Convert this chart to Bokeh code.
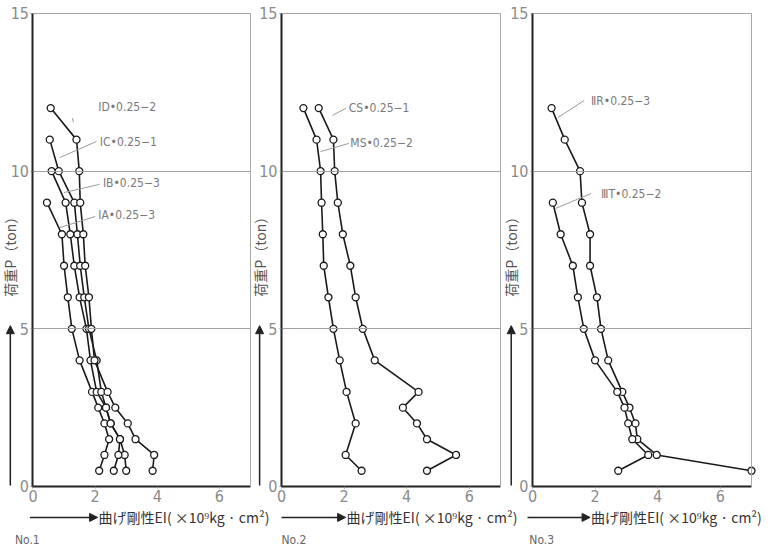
from math import pi
from bokeh.plotting import figure
from bokeh.models import (Range1d, Label, Arrow, NormalHead, FixedTicker, LinearAxis)
from bokeh.embed import file_html
from bokeh.resources import INLINE

# ---------------- data (EI x10^9 kg·cm², load P ton) ----------------
y_ticks = [0, 5, 10, 15]
x_ticks = [0, 2, 4, 6]
ref_lines = [5, 10, 15]

IA_P = [9, 8, 7, 6, 5, 4, 3, 2.5, 2, 1.5, 1, 0.5]
IA_EI = [0.45, 0.93, 1.0, 1.12, 1.25, 1.5, 1.9, 2.1, 2.3, 2.45, 2.3, 2.13]
IB_P = [10, 9, 8, 7, 6, 5, 4, 3, 2.5, 2, 1.5, 1, 0.5]
IB_EI = [0.6, 1.05, 1.2, 1.33, 1.5, 1.72, 1.85, 2.05, 2.35, 2.5, 2.8, 2.95, 3.0]
IC_P = [11, 10, 9, 8, 7, 6, 5, 4, 3, 2.5, 2, 1.5, 1, 0.5]
IC_EI = [0.54, 0.83, 1.33, 1.43, 1.52, 1.65, 1.8, 2.05, 2.2, 2.35, 2.5, 2.8, 2.75, 2.6]
ID_P = [12, 11, 10, 9, 8, 7, 6, 5, 4, 3, 2.5, 2, 1.5, 1, 0.5]
ID_EI = [0.57, 1.4, 1.49, 1.52, 1.62, 1.68, 1.8, 1.88, 1.98, 2.4, 2.65, 3.05, 3.3, 3.9, 3.85]

CS_P = [12, 11, 10, 9, 8, 7, 6, 5, 4, 3, 2, 1, 0.5]
CS_EI = [0.7, 1.12, 1.25, 1.28, 1.32, 1.35, 1.5, 1.66, 1.86, 2.08, 2.37, 2.05, 2.56]
MS_P = [12, 11, 10, 9, 8, 7, 6, 5, 4, 3, 2.5, 2, 1.5, 1, 0.5]
MS_EI = [1.19, 1.66, 1.7, 1.8, 1.96, 2.2, 2.37, 2.6, 2.98, 4.38, 3.88, 4.33, 4.65, 5.58, 4.65]

IIR_P = [12, 11, 10, 9, 8, 7, 6, 5, 4, 3, 2.5, 2, 1.5, 1, 0.5]
IIR_EI = [0.61, 1.03, 1.52, 1.58, 1.84, 1.84, 2.06, 2.19, 2.42, 2.87, 3.1, 3.29, 3.35, 3.97, 7.0]
IIIT_P = [9, 8, 7, 6, 5, 4, 3, 2.5, 2, 1.5, 1, 0.5]
IIIT_EI = [0.65, 0.9, 1.29, 1.45, 1.64, 2.0, 2.71, 2.94, 3.06, 3.19, 3.7, 2.74]

series_names_1 = ["ⅠA•0.25−3", "ⅠB•0.25−3", "ⅠC•0.25−1", "ⅠD•0.25−2"]
series_names_2 = ["CS•0.25−1", "MS•0.25−2"]
series_names_3 = ["ⅡR•0.25−3", "ⅢT•0.25−2"]
panel_names = ["No.1", "No.2", "No.3"]
x_label = "曲げ剛性EI( ×10⁹kg · cm²)"
y_label = "荷重P（ton）"

JP = "Noto Sans CJK JP"
NOTE_FONT = "'DejaVu Sans Condensed', 'Noto Sans CJK JP', sans-serif"
NUM = "'Liberation Sans Narrow', 'DejaVu Sans Condensed', sans-serif"
GRAY = "#7a7a7a"

p = figure(frame_width=773, frame_height=552, min_border=0,
           x_range=Range1d(-1.046, 23.833), y_range=Range1d(-2.093, 15.412),
           x_axis_type=None, y_axis_type=None,
           output_backend="svg", toolbar_location=None,
           background_fill_color="white", border_fill_color="white")
p.outline_line_color = None
p.xgrid.visible = False
p.ygrid.visible = False
p.extra_x_ranges = {"p2": Range1d(-8.982, 15.726), "p3": Range1d(-17.004, 7.703)}


def add_panel(rn, series, notes, name, xarrow, ylab_x, name_x):
    # reference lines (thin gray) drawn as bounded, label-less axes
    for yl in ref_lines:
        g = LinearAxis(fixed_location=yl, bounds=(0, 7), x_range_name=rn,
                       ticker=FixedTicker(ticks=[]), axis_line_color="#a3a3a3",
                       axis_line_width=1, major_tick_line_color=None,
                       minor_tick_line_color=None, major_label_text_font_size="0px")
        p.add_layout(g, "below")
    g = LinearAxis(fixed_location=7, bounds=(0, 15), x_range_name=rn,
                   ticker=FixedTicker(ticks=[]), axis_line_color="#a8a8a8",
                   axis_line_width=1, major_tick_line_color=None,
                   minor_tick_line_color=None, major_label_text_font_size="0px")
    p.add_layout(g, "left")

    xa = LinearAxis(fixed_location=0, bounds=(0, 7), x_range_name=rn,
                    ticker=FixedTicker(ticks=x_ticks))
    ya = LinearAxis(fixed_location=0, bounds=(0, 15), x_range_name=rn,
                    ticker=FixedTicker(ticks=y_ticks))
    for ax in (xa, ya):
        ax.axis_line_color = "#222222"
        ax.axis_line_width = 2
        ax.major_tick_in = 0
        ax.major_tick_out = 2
        ax.minor_tick_line_color = None
        ax.major_tick_line_color = "#888888"
        ax.major_label_text_color = "#8a8a8a"
        ax.major_label_text_font = NUM
        ax.major_label_text_font_size = "16px"
        ax.major_label_standoff = 2
    p.add_layout(xa, "below")
    p.add_layout(ya, "left")

    for xs, ys in series:
        p.line(xs, ys, line_color="#1a1a1a", line_width=1.6, x_range_name=rn)
        p.scatter(xs, ys, marker="circle", size=7, fill_color="white",
                  line_color="#1a1a1a", line_width=1.3, x_range_name=rn)

    for (tx, ty, text, lx0, ly0, lx1, ly1) in notes:
        p.segment(x0=[lx0], y0=[ly0], x1=[lx1], y1=[ly1],
                  line_color="#9a9a9a", line_width=1, x_range_name=rn)
        p.add_layout(Label(x=tx, y=ty, text=text, text_font=NOTE_FONT, x_range_name=rn,
                           text_font_size="12px", text_color=GRAY,
                           text_baseline="middle", text_align="left"))

    # x label with arrow
    x0, x1 = xarrow
    p.add_layout(Arrow(x_start=x0, y_start=-0.98, x_end=x1, y_end=-0.98, x_range_name=rn,
                       line_color="#222222", line_width=1.5,
                       end=NormalHead(size=8, fill_color="#222222", line_color="#222222")))
    p.add_layout(Label(x=x1 + 0.03, y=-0.98, text=x_label, text_font=JP, x_range_name=rn,
                       text_font_size="14px", text_color="#333333",
                       text_baseline="middle", text_align="left"))
    # y label with arrow
    p.add_layout(Arrow(x_start=ylab_x, y_start=0.03, x_end=ylab_x, y_end=5.1, x_range_name=rn,
                       line_color="#222222", line_width=1.5,
                       end=NormalHead(size=8, fill_color="#222222", line_color="#222222")))
    p.add_layout(Label(x=ylab_x, y=7.4, text=y_label, angle=pi / 2, text_font=JP,
                       x_range_name=rn, text_font_size="14px", text_color="#555555",
                       text_baseline="middle", text_align="center"))
    p.add_layout(Label(x=name_x, y=-1.71, text=name, text_font=NUM, x_range_name=rn,
                       text_font_size="12px", text_color="#666666",
                       text_baseline="middle", text_align="left"))


add_panel("default",
          [(IA_EI, IA_P), (IB_EI, IB_P), (IC_EI, IC_P), (ID_EI, ID_P)],
          [(2.1, 8.6, series_names_1[0], 0.86, 8.21, 2.0, 8.56),
           (2.25, 9.61, series_names_1[1], 0.99, 9.32, 2.14, 9.58),
           (2.15, 10.94, series_names_1[2], 0.86, 10.43, 2.04, 10.94),
           (2.1, 12.02, series_names_1[3], 1.27, 11.68, 1.30, 11.55)],
          panel_names[0], (-0.1, 2.08), -0.73, -0.58)
add_panel("p2",
          [(CS_EI, CS_P), (MS_EI, MS_P)],
          [(2.15, 11.99, series_names_2[0], 1.63, 11.77, 2.05, 11.99),
           (2.2, 10.88, series_names_2[1], 1.25, 10.62, 2.15, 10.88)],
          panel_names[1], (0.0, 2.05), -0.7, 0.0)
add_panel("p3",
          [(IIR_EI, IIR_P), (IIIT_EI, IIIT_P)],
          [(1.87, 12.24, series_names_3[0], 0.81, 11.7, 1.65, 12.24),
           (2.19, 9.29, series_names_3[1], 0.74, 8.82, 1.87, 9.29)],
          panel_names[2], (-0.16, 1.84), -0.68, -0.1)

open("out.html", "w").write(file_html(p, INLINE))
